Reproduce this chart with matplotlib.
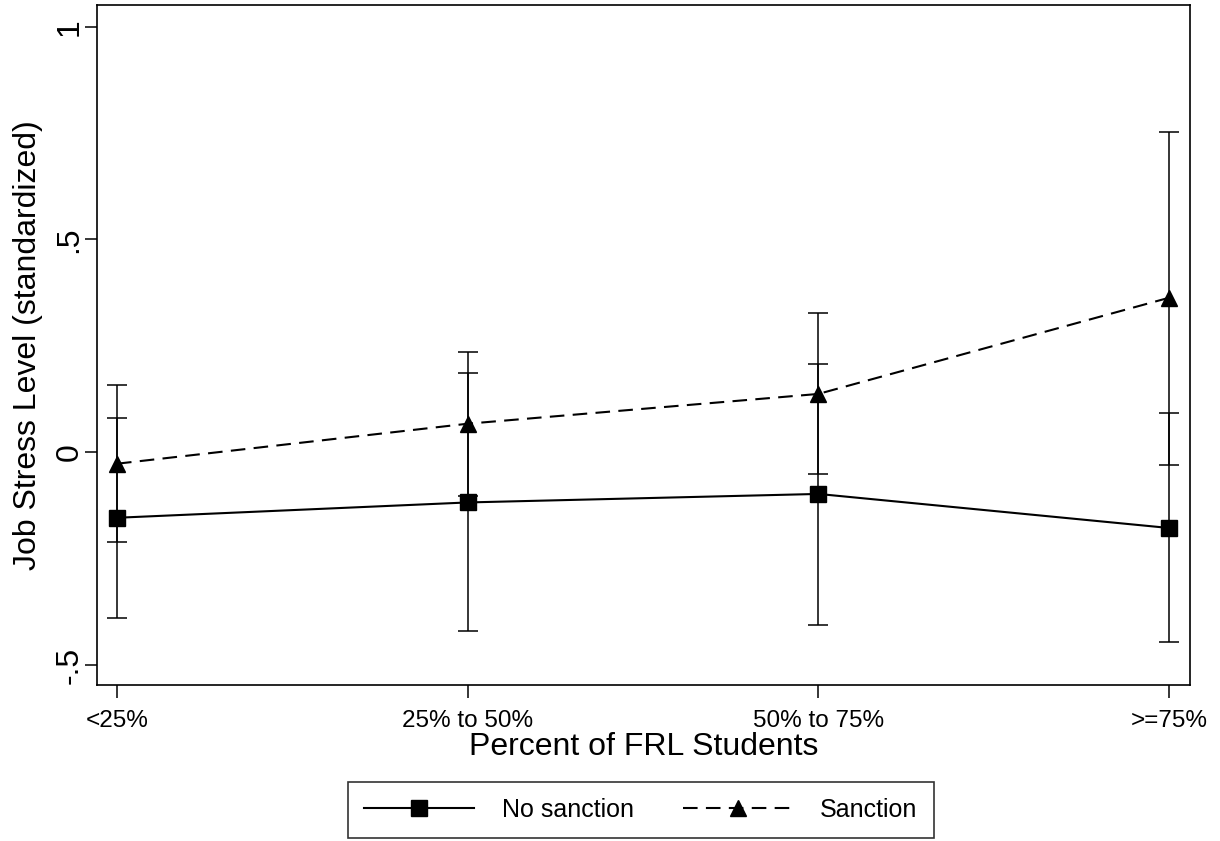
import matplotlib
matplotlib.use("Agg")
import matplotlib.pyplot as plt
import numpy as np

categories = ["<25%", "25% to 50%", "50% to 75%", ">=75%"]
no_sanction_mean = [-0.154, -0.118, -0.098, -0.178]
no_sanction_lo = [-0.389, -0.421, -0.406, -0.447]
no_sanction_hi = [0.081, 0.187, 0.207, 0.092]
sanction_mean = [-0.027, 0.067, 0.137, 0.363]
sanction_lo = [-0.211, -0.102, -0.051, -0.031]
sanction_hi = [0.158, 0.236, 0.327, 0.753]
yticks = [-0.5, 0, 0.5, 1]
ytick_labels = ["-.5", "0", ".5", "1"]

plt.rcParams['font.family'] = ['Liberation Sans', 'DejaVu Sans']

fig = plt.figure(figsize=(12.2, 8.41), dpi=100)
ax = fig.add_axes([97/1220, 1-685/841, (1190-97)/1220, (685-5)/841])

x = np.arange(1, len(categories) + 1)

def draw(mean, lo, hi, marker, ms, ls, label):
    mean = np.array(mean); lo = np.array(lo); hi = np.array(hi)
    ax.errorbar(x, mean, yerr=[mean - lo, hi - mean], fmt='none', ecolor='black',
                elinewidth=1.1, capsize=7, capthick=1.1, zorder=2)
    ax.plot(x, mean, color='black', linestyle=ls, linewidth=1.5, marker=marker,
            markersize=ms, markerfacecolor='black', markeredgecolor='black',
            label=label, zorder=3)

draw(no_sanction_mean, no_sanction_lo, no_sanction_hi, 's', 11, '-', 'No sanction')
draw(sanction_mean, sanction_lo, sanction_hi, '^', 12, (0, (7, 4)), 'Sanction')

ax.set_xlim(0.943, 4.06)
ax.set_ylim(-0.547, 1.051)
ax.set_xticks(x)
ax.set_xticklabels(categories, fontsize=17.5)
ax.set_yticks(yticks)
ax.set_yticklabels(ytick_labels, fontsize=23, rotation=90, va='center')
ax.tick_params(axis='both', direction='out', length=9, width=1.1, colors='black')
ax.tick_params(axis='x', pad=9)
ax.tick_params(axis='y', pad=0)
for s in ax.spines.values():
    s.set_linewidth(1.2)
    s.set_color('black')

ax.set_xlabel("Percent of FRL Students", fontsize=23, labelpad=0)
ax.set_ylabel("Job Stress Level (standardized)", fontsize=23, labelpad=8)

leg = fig.legend(loc='center', bbox_to_anchor=(641/1220, 1-810/841), ncol=2,
                 fontsize=18, frameon=True, fancybox=False, edgecolor='black',
                 handlelength=4.4, columnspacing=1.95, handletextpad=1.1,
                 borderpad=0.65)
leg.get_frame().set_linewidth(1.2)

fig.savefig("out.png", dpi=100, facecolor='white')
